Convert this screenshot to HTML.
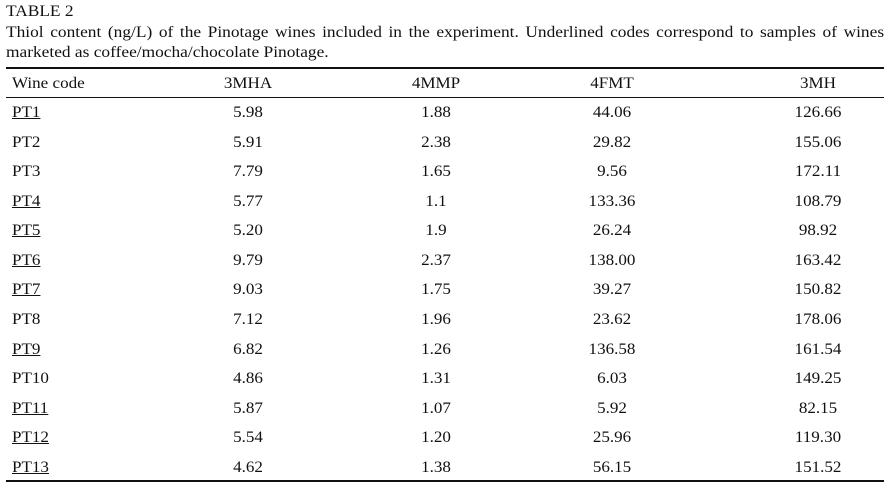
<!DOCTYPE html>
<html><head><meta charset="utf-8"><style>
body{margin:0;width:890px;height:497px;background:#fff;position:relative;overflow:hidden;font-family:"Liberation Serif",serif;color:#111;}
.t{position:absolute;font-size:15.5px;white-space:nowrap;line-height:18px;transform-origin:0 0;transform:scaleX(1.12);}
.rule{position:absolute;left:6px;width:878px;background:#111;}
.c{position:absolute;font-size:15.5px;line-height:18px;white-space:nowrap;transform:translateX(-50%) scaleX(1.1);}
.code{position:absolute;left:12px;font-size:15.5px;line-height:18px;transform-origin:0 0;transform:scaleX(1.1);}
</style></head><body>
<div class="t" style="left:6px;top:3px;">TABLE 2</div>
<div class="t" style="left:6px;top:24px;width:784px;text-align:justify;text-align-last:justify;">Thiol content (ng/L) of the Pinotage wines included in the experiment. Underlined codes correspond to samples of wines</div>
<div class="t" style="left:6px;top:44px;">marketed as coffee/mocha/chocolate Pinotage.</div>
<div class="rule" style="top:67px;height:2px;"></div>
<div class="rule" style="top:97px;height:1px;"></div>
<div class="rule" style="top:480px;height:2px;"></div>
<div id="tbl"></div>
<script>
const codes=["PT1","PT2","PT3","PT4","PT5","PT6","PT7","PT8","PT9","PT10","PT11","PT12","PT13"];
const underlined=[1,0,0,1,1,1,1,0,1,0,1,1,1];
const headers=["3MHA","4MMP","4FMT","3MH"];
const v3MHA=["5.98","5.91","7.79","5.77","5.20","9.79","9.03","7.12","6.82","4.86","5.87","5.54","4.62"];
const v4MMP=["1.88","2.38","1.65","1.1","1.9","2.37","1.75","1.96","1.26","1.31","1.07","1.20","1.38"];
const v4FMT=["44.06","29.82","9.56","133.36","26.24","138.00","39.27","23.62","136.58","6.03","5.92","25.96","56.15"];
const v3MH=["126.66","155.06","172.11","108.79","98.92","163.42","150.82","178.06","161.54","149.25","82.15","119.30","151.52"];
const cols=[v3MHA,v4MMP,v4FMT,v3MH];
const colX=[248,436,612,818];
const host=document.getElementById('tbl');
const rowY=i=>104+29.58*i;
let h=document.createElement('div');h.className='code';h.style.top='75px';h.textContent='Wine code';


host.appendChild(h);
headers.forEach((t,j)=>{const d=document.createElement('div');d.className='c';d.style.left=colX[j]+'px';d.style.top='75px';d.textContent=t;


host.appendChild(d);});
codes.forEach((c,i)=>{const d=document.createElement('div');d.className='code';d.style.top=rowY(i)+'px';d.textContent=c;if(underlined[i])d.style.textDecoration='underline';


host.appendChild(d);
cols.forEach((col,j)=>{const e=document.createElement('div');e.className='c';e.style.left=colX[j]+'px';e.style.top=rowY(i)+'px';e.textContent=col[i];


host.appendChild(e);});});
</script>
</body></html>
